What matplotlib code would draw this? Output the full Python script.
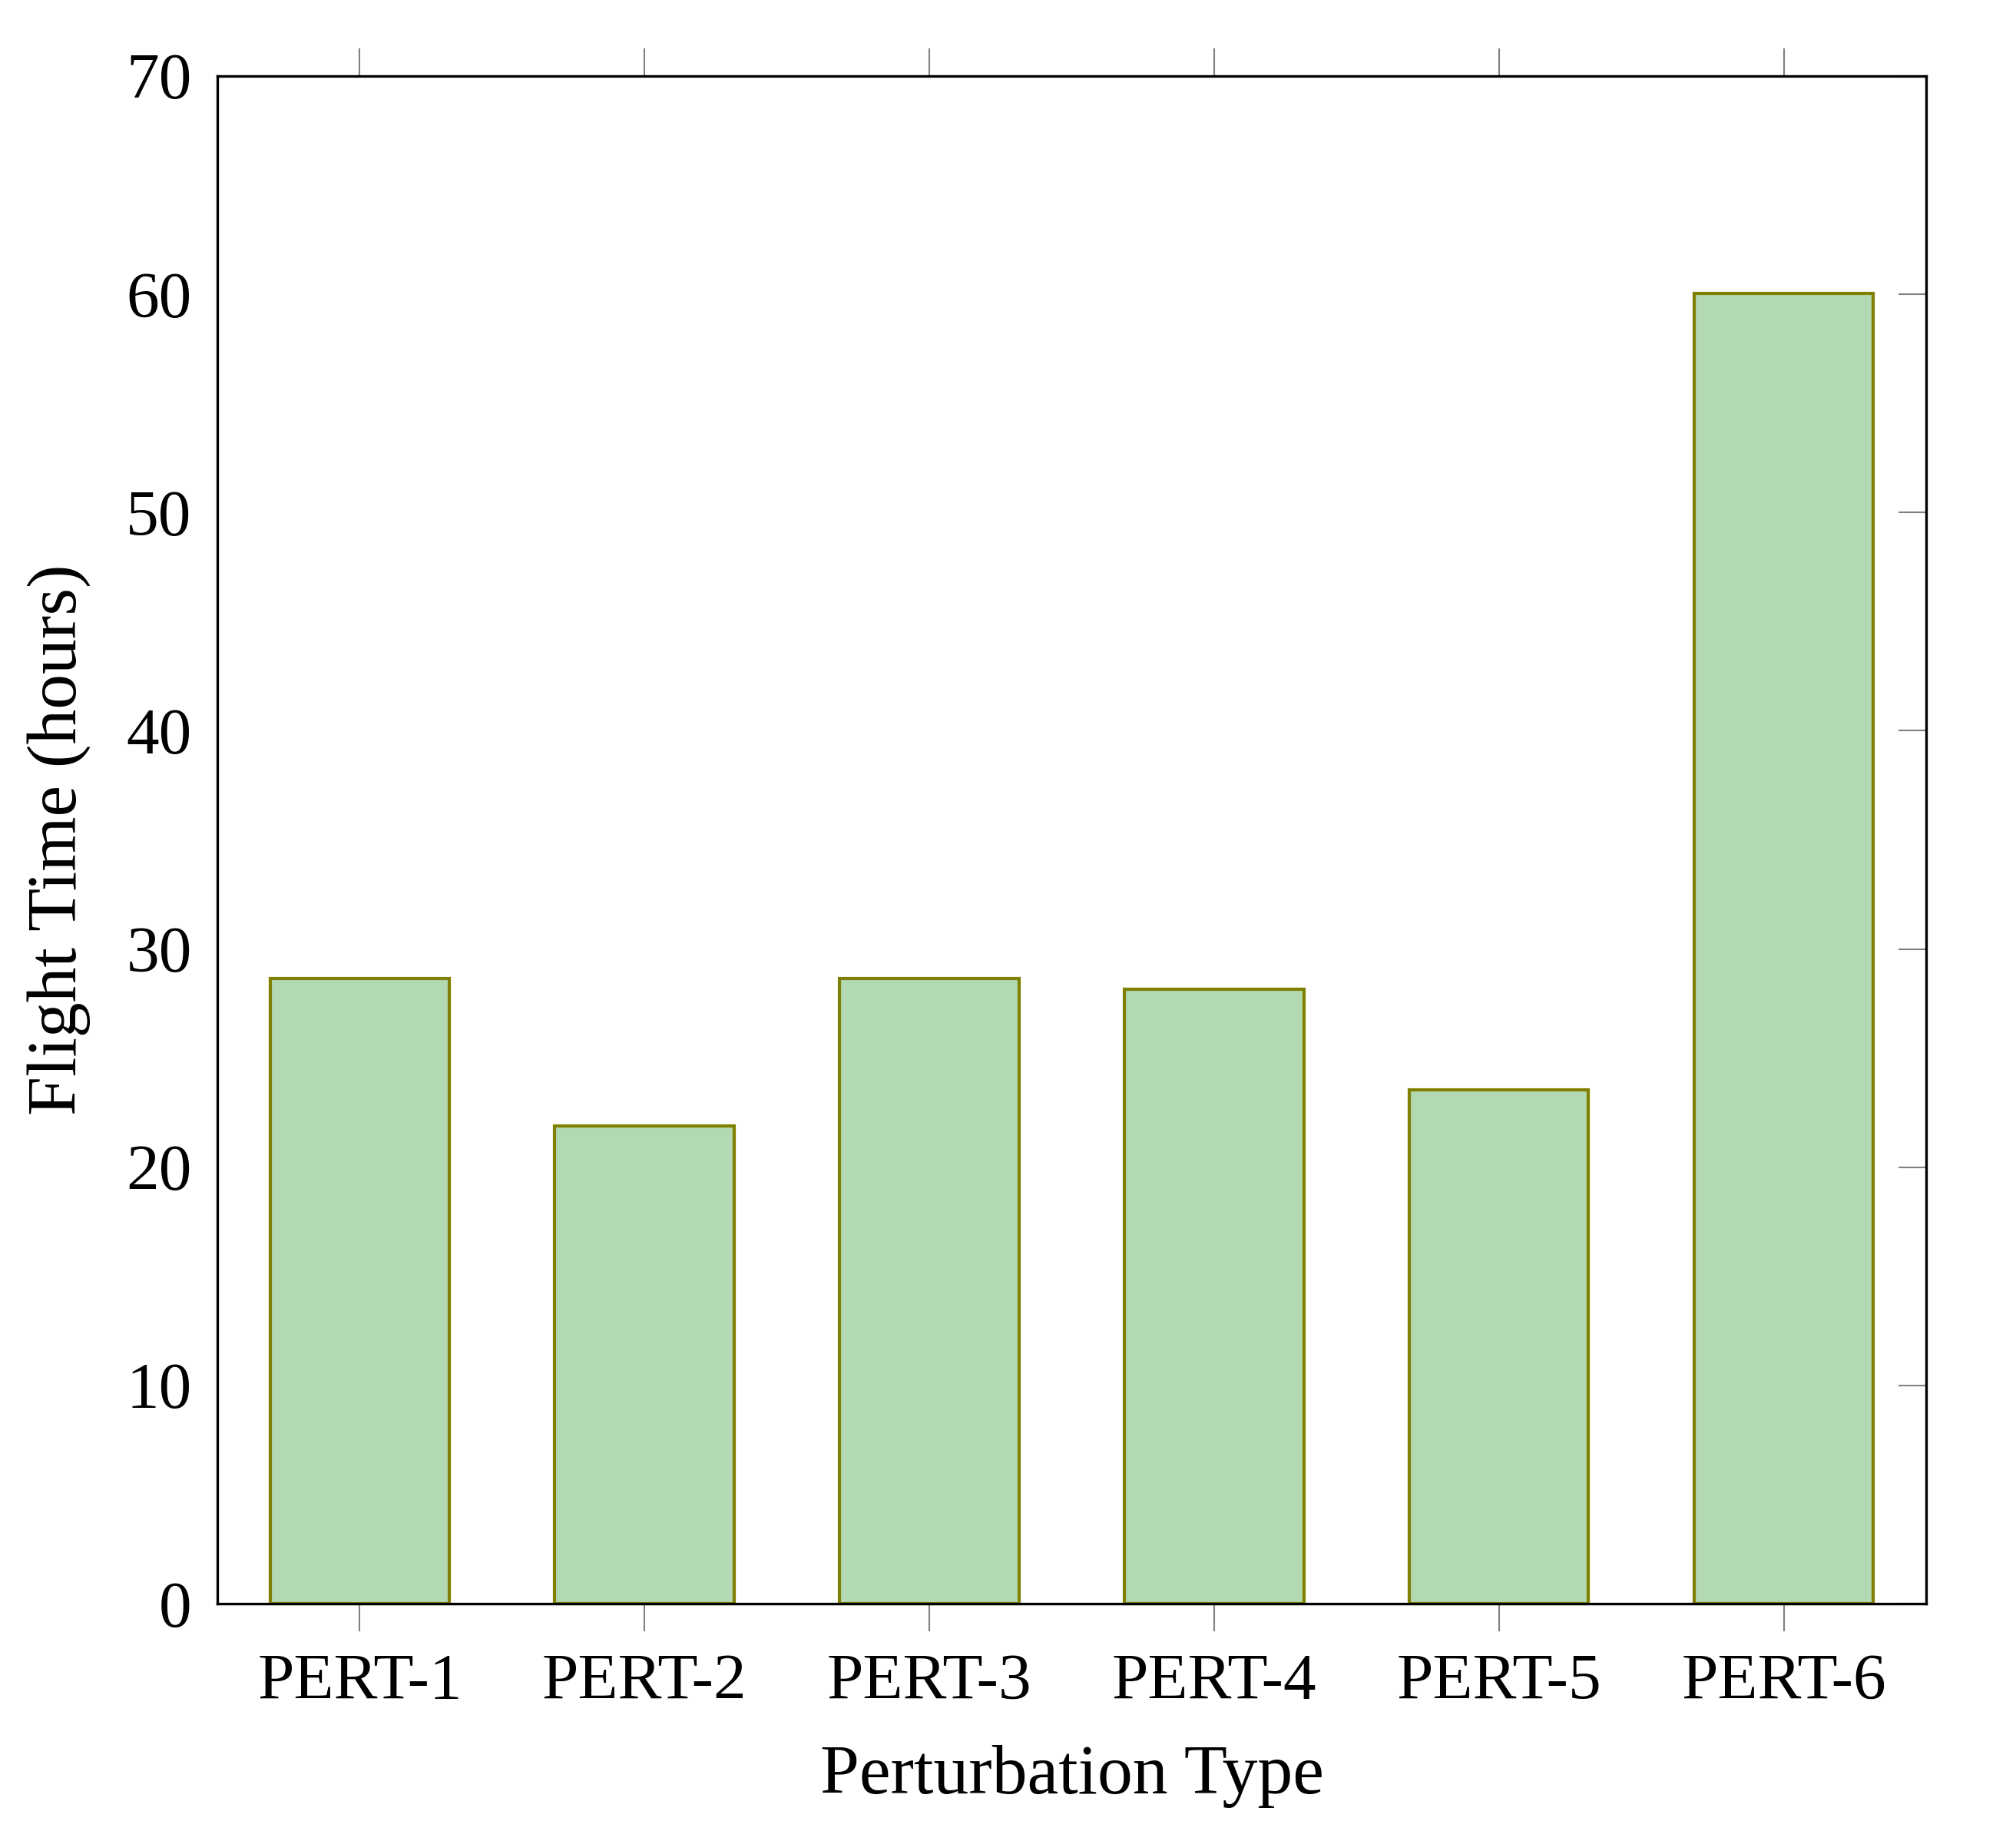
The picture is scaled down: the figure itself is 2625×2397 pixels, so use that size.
import matplotlib
matplotlib.use("Agg")
import matplotlib.pyplot as plt
import numpy as np

# values
categories = ['PERT-1', 'PERT-2', 'PERT-3', 'PERT-4', 'PERT-5', 'PERT-6']
flight_hours = [28.65, 21.9, 28.65, 28.15, 23.55, 60.05]
y_ticks = [0, 10, 20, 30, 40, 50, 60, 70]

plt.rcParams['font.family'] = ['Liberation Serif', 'DejaVu Serif']

fig = plt.figure(figsize=(8.75, 7.99), dpi=300)
ax = fig.add_axes([0.1078, 0.1289, 0.9554 - 0.1078, 0.9587 - 0.1289])

x = np.arange(len(categories))
ax.bar(x, flight_hours, width=0.63, color='#B3D9B3', edgecolor='#808000',
       linewidth=1.0, zorder=2)

ax.set_xlim(-0.5, len(categories) - 0.5)
ax.set_ylim(0, 70)
ax.set_xticks(x)
ax.set_xticklabels(categories)
ax.set_yticks(y_ticks)

for s in ax.spines.values():
    s.set_linewidth(0.8)

# x ticks outward on top and bottom, y ticks inward on the right only
ax.tick_params(axis='x', which='major', direction='out', top=True, bottom=True,
               length=8.6, width=0.5, color='gray', labelsize=20.5, pad=7)
ax.tick_params(axis='y', which='major', direction='in', left=False, right=True,
               labelleft=True, length=8.6, width=0.5, color='gray',
               labelsize=20.5, pad=8)

ax.set_xlabel('Perturbation Type', fontsize=22, labelpad=10)
ax.set_ylabel('Flight Time (hours)', fontsize=22, labelpad=11)

fig.savefig('out.png', dpi=300)
